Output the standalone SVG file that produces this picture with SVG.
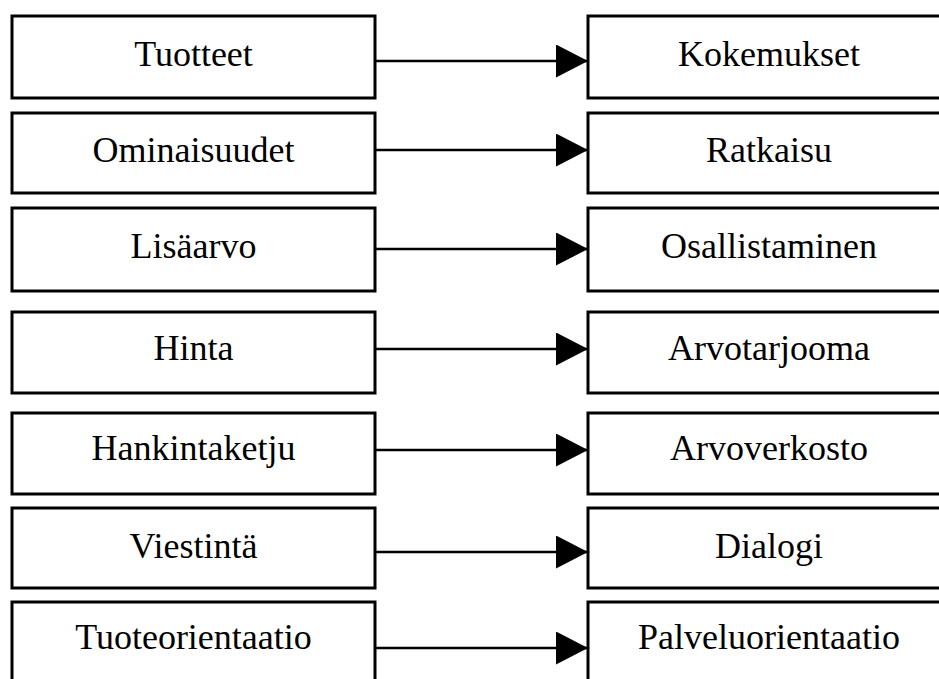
<svg xmlns="http://www.w3.org/2000/svg" width="939" height="679" viewBox="0 0 939 679">
<style>
.box{fill:#fff;stroke:#000;stroke-width:3}
.lbl{font-family:"Liberation Serif","Times New Roman",serif;font-size:36px;fill:#000;text-anchor:middle}
.conn{stroke:#000;stroke-width:2.6;fill:none}
</style>
<defs>
<marker id="arr" markerUnits="userSpaceOnUse" markerWidth="33" markerHeight="34" refX="32" refY="16.5" orient="auto" viewBox="0 0 33 34">
<path d="M0,0 L32,16.5 L0,33 z" fill="#000"/>
</marker>
</defs>
<rect width="939" height="679" fill="#fff"/>
<g id="n-tuotteet"><rect class="box" x="12" y="16" width="363" height="82"/><text class="lbl" x="193.5" y="66">Tuotteet</text></g>
<g id="n-ominaisuudet"><rect class="box" x="12" y="113" width="363" height="80"/><text class="lbl" x="193.5" y="162">Ominaisuudet</text></g>
<g id="n-lisaarvo"><rect class="box" x="12" y="208" width="363" height="83"/><text class="lbl" x="193.5" y="258">Lisäarvo</text></g>
<g id="n-hinta"><rect class="box" x="12" y="312" width="363" height="81"/><text class="lbl" x="193.5" y="360">Hinta</text></g>
<g id="n-hankintaketju"><rect class="box" x="12" y="413" width="363" height="81"/><text class="lbl" x="193.5" y="460">Hankintaketju</text></g>
<g id="n-viestinta"><rect class="box" x="12" y="508" width="363" height="80"/><text class="lbl" x="193.5" y="558">Viestintä</text></g>
<g id="n-tuoteorientaatio"><rect class="box" x="12" y="602" width="363" height="90"/><text class="lbl" x="193.5" y="649">Tuoteorientaatio</text></g>
<g id="n-kokemukset"><rect class="box" x="588" y="16" width="362" height="82"/><text class="lbl" x="769" y="66">Kokemukset</text></g>
<g id="n-ratkaisu"><rect class="box" x="588" y="113" width="362" height="80"/><text class="lbl" x="769" y="162">Ratkaisu</text></g>
<g id="n-osallistaminen"><rect class="box" x="588" y="208" width="362" height="83"/><text class="lbl" x="769" y="258">Osallistaminen</text></g>
<g id="n-arvotarjooma"><rect class="box" x="588" y="312" width="362" height="81"/><text class="lbl" x="769" y="360">Arvotarjooma</text></g>
<g id="n-arvoverkosto"><rect class="box" x="588" y="413" width="362" height="81"/><text class="lbl" x="769" y="460">Arvoverkosto</text></g>
<g id="n-dialogi"><rect class="box" x="588" y="508" width="362" height="80"/><text class="lbl" x="769" y="558">Dialogi</text></g>
<g id="n-palveluorientaatio"><rect class="box" x="588" y="602" width="362" height="90"/><text class="lbl" x="769" y="649">Palveluorientaatio</text></g>
<g id="connectors">
<line class="conn" x1="375" y1="61" x2="588" y2="61" marker-end="url(#arr)"/>
<line class="conn" x1="375" y1="150" x2="588" y2="150" marker-end="url(#arr)"/>
<line class="conn" x1="375" y1="249" x2="588" y2="249" marker-end="url(#arr)"/>
<line class="conn" x1="375" y1="349" x2="588" y2="349" marker-end="url(#arr)"/>
<line class="conn" x1="375" y1="450" x2="588" y2="450" marker-end="url(#arr)"/>
<line class="conn" x1="375" y1="552" x2="588" y2="552" marker-end="url(#arr)"/>
<line class="conn" x1="375" y1="648" x2="588" y2="648" marker-end="url(#arr)"/>
</g>
</svg>
